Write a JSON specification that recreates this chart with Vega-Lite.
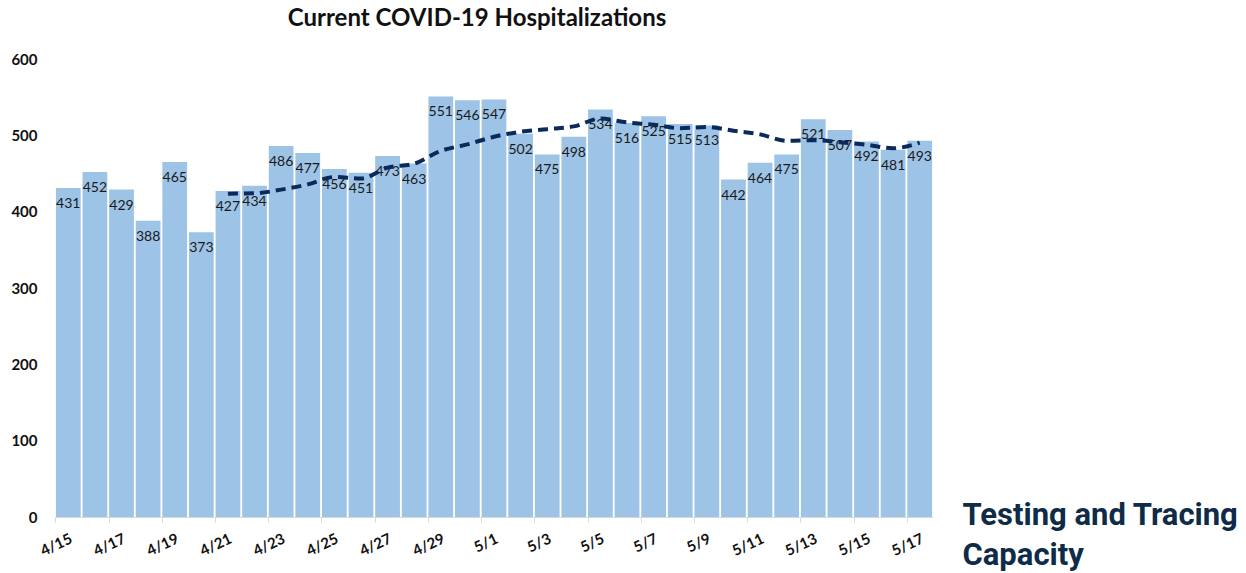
{
  "$schema": "https://vega.github.io/schema/vega-lite/v6.json",
  "autosize": "none",
  "width": 878,
  "height": 458,
  "padding": {"left": 55, "top": 59, "right": 313, "bottom": 56},
  "background": "white",
  "config": {"view": {"stroke": null}},
  "title": {
    "text": "Current COVID-19 Hospitalizations",
    "font": "Lato",
    "fontSize": 24,
    "fontWeight": "bold",
    "color": "#111111",
    "anchor": "middle",
    "dx": -17,
    "offset": 2,
    "baseline": "alphabetic"
  },
  "data": {
    "values": [
      {"date": "4/15", "value": 431, "avg": null},
      {"date": "4/16", "value": 452, "avg": null},
      {"date": "4/17", "value": 429, "avg": null},
      {"date": "4/18", "value": 388, "avg": null},
      {"date": "4/19", "value": 465, "avg": null},
      {"date": "4/20", "value": 373, "avg": null},
      {"date": "4/21", "value": 427, "avg": 423.6},
      {"date": "4/22", "value": 434, "avg": 424.0},
      {"date": "4/23", "value": 486, "avg": 428.9},
      {"date": "4/24", "value": 477, "avg": 435.7},
      {"date": "4/25", "value": 456, "avg": 445.4},
      {"date": "4/26", "value": 451, "avg": 443.4},
      {"date": "4/27", "value": 473, "avg": 457.7},
      {"date": "4/28", "value": 463, "avg": 462.9},
      {"date": "4/29", "value": 551, "avg": 479.6},
      {"date": "4/30", "value": 546, "avg": 488.1},
      {"date": "5/1", "value": 547, "avg": 498.1},
      {"date": "5/2", "value": 502, "avg": 504.7},
      {"date": "5/3", "value": 475, "avg": 508.1},
      {"date": "5/4", "value": 498, "avg": 511.7},
      {"date": "5/5", "value": 534, "avg": 521.9},
      {"date": "5/6", "value": 516, "avg": 516.9},
      {"date": "5/7", "value": 525, "avg": 513.9},
      {"date": "5/8", "value": 515, "avg": 509.3},
      {"date": "5/9", "value": 513, "avg": 510.9},
      {"date": "5/10", "value": 442, "avg": 506.1},
      {"date": "5/11", "value": 464, "avg": 501.3},
      {"date": "5/12", "value": 475, "avg": 492.9},
      {"date": "5/13", "value": 521, "avg": 493.6},
      {"date": "5/14", "value": 507, "avg": 491.0},
      {"date": "5/15", "value": 492, "avg": 487.7},
      {"date": "5/16", "value": 481, "avg": 483.1},
      {"date": "5/17", "value": 493, "avg": 490.4}
    ]
  },
  "encoding": {
    "x": {
      "field": "date",
      "type": "ordinal",
      "sort": null,
      "scale": {"paddingInner": 0.07, "paddingOuter": 0.035},
      "axis": {
        "values": ["4/15", "4/17", "4/19", "4/21", "4/23", "4/25", "4/27", "4/29", "5/1", "5/3", "5/5", "5/7", "5/9", "5/11", "5/13", "5/15", "5/17"],
        "bandPosition": 0,
        "labelOffset": 0,
        "labelAngle": -25,
        "labelAlign": "right",
        "labelBaseline": "top",
        "labelPadding": 9,
        "labelFont": "Lato",
        "labelFontSize": 15,
        "labelFontWeight": "bold",
        "labelColor": "#111111",
        "tickSize": 5,
        "tickColor": "#d9d9d9",
        "domainColor": "#d9d9d9",
        "grid": false,
        "title": ["Testing and Tracing", "Capacity"],
        "titleX": 907,
        "titleY": 7,
        "titleAlign": "left",
        "titleAnchor": null,
        "titleBaseline": "alphabetic",
        "titleAngle": 0,
        "titleLineHeight": 40,
        "titleFont": "Roboto",
        "titleFontSize": 31,
        "titleFontWeight": "bold",
        "titleColor": "#0e2b47"
      }
    }
  },
  "layer": [
    {
      "mark": {"type": "bar", "color": "#9DC3E6"},
      "encoding": {
        "y": {
          "field": "value",
          "type": "quantitative",
          "scale": {"domain": [0, 600]},
          "axis": {
            "values": [0, 100, 200, 300, 400, 500, 600],
            "grid": false,
            "domain": false,
            "ticks": false,
            "labelPadding": 18,
            "labelFont": "Lato",
            "labelFontSize": 15,
            "labelFontWeight": "bold",
            "labelColor": "#111111",
            "title": null
          }
        }
      }
    },
    {
      "mark": {"type": "text", "font": "Lato", "fontSize": 14, "color": "#1a1a1a", "baseline": "middle", "dy": 16},
      "encoding": {
        "y": {"field": "value", "type": "quantitative"},
        "text": {"field": "value", "type": "quantitative"}
      }
    },
    {
      "mark": {"type": "line", "color": "#0b2a5c", "strokeWidth": 4, "strokeDash": [10, 6], "interpolate": "monotone"},
      "encoding": {
        "y": {"field": "avg", "type": "quantitative"}
      }
    }
  ]
}
